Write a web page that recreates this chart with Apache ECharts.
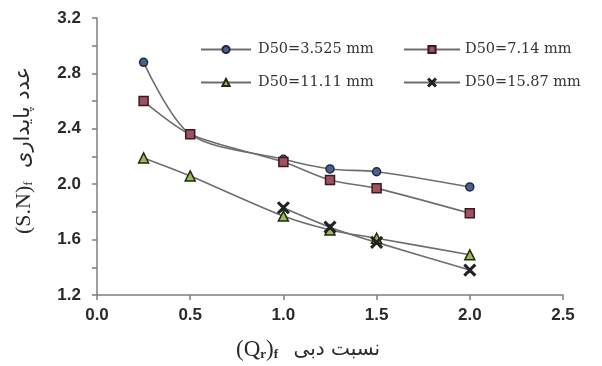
<!DOCTYPE html>
<html>
<head>
<meta charset="utf-8">
<script src="https://cdn.jsdelivr.net/npm/echarts@6/dist/echarts.min.js"></script>
<style>
  html, body { margin: 0; padding: 0; background: #fff; }
  #chart { width: 602px; height: 366px; }
</style>
</head>
<body>
<div id="chart"></div>
<script>
// Discharge ratio (x) and stability number (S.N)f for four sediment sizes
var xValues   = [0.25, 0.5, 1.0, 1.25, 1.5, 2.0];
var xCross    = [1.0, 1.25, 1.5, 2.0];
var seriesNames = ['D50=3.525 mm', 'D50=7.14 mm', 'D50=11.11 mm', 'D50=15.87 mm'];
var snD3525   = [2.88, 2.36, 2.18, 2.11, 2.09, 1.98];
var snD714    = [2.60, 2.36, 2.16, 2.03, 1.97, 1.79];
var snD1111   = [2.19, 2.06, 1.77, 1.67, 1.61, 1.49];
var snD1587   = [1.83, 1.69, 1.58, 1.38];

function pairs(xs, ys) {
  return xs.map(function (x, i) { return [x, ys[i]]; });
}

var crossPath = 'path://M0,1L1,0L5,4L9,0L10,1L6,5L10,9L9,10L5,6L1,10L0,9L4,5Z';
var lineStyle = { color: '#6e6e6e', width: 1.6 };
var tickFont = { fontFamily: 'Liberation Sans', fontWeight: 'bold', fontSize: 17, color: '#2a2a2a' };

function makeSeries(name, data, symbol, size, fill, border) {
  return {
    name: name,
    type: 'line',
    data: data,
    smooth: 0.3,
    symbol: symbol,
    symbolSize: size,
    showAllSymbol: true,
    lineStyle: lineStyle,
    itemStyle: { color: fill, borderColor: border, borderWidth: 1.5 },
    emphasis: { disabled: true },
    z: 3
  };
}

var chart = echarts.init(document.getElementById('chart'));
chart.setOption({
  animation: false,
  backgroundColor: '#ffffff',
  grid: { left: 97, right: 39, top: 18, bottom: 71, containLabel: false },
  legend: [
    {
      data: [seriesNames[0], seriesNames[2]],
      orient: 'vertical', left: 195, top: 37, itemGap: 18,
      itemWidth: 50, itemHeight: 9,
      textStyle: { fontFamily: 'DejaVu Serif', fontSize: 14.5, color: '#333', padding: [0, 0, 0, 2] }
    },
    {
      data: [seriesNames[1], seriesNames[3]],
      orient: 'vertical', left: 398, top: 37, itemGap: 18,
      itemWidth: 56, itemHeight: 9,
      textStyle: { fontFamily: 'DejaVu Serif', fontSize: 14.5, color: '#333', padding: [0, 0, 0, 0] }
    }
  ],
  xAxis: {
    type: 'value', min: 0, max: 2.5, interval: 0.5,
    axisLine: { show: true, onZero: false, lineStyle: { color: '#7f7f7f', width: 1.5 } },
    axisTick: { show: true, length: 5, lineStyle: { color: '#7f7f7f', width: 1.5 } },
    splitLine: { show: false },
    axisLabel: Object.assign({ margin: 12, formatter: function (v) { return v.toFixed(1); } }, tickFont)
  },
  yAxis: {
    type: 'value', min: 1.2, max: 3.2, interval: 0.2,
    axisLine: { show: true, onZero: false, lineStyle: { color: '#7f7f7f', width: 1.5 } },
    axisTick: { show: true, length: 5, lineStyle: { color: '#7f7f7f', width: 1.5 } },
    splitLine: { show: false },
    axisLabel: Object.assign({
      margin: 16,
      formatter: function (v) {
        return Math.round(v * 10) % 4 === 0 ? v.toFixed(1) : '';
      }
    }, tickFont)
  },
  graphic: [
    {
      type: 'text', left: 236, top: 338,
      style: {
        text: '{a|(Q}{s|r}{a|)}{s|f}{g|    }{p|نسبت دبی}',
        rich: {
          a: { fontFamily: 'Liberation Serif', fontSize: 23, fill: '#2a2a2a' },
          s: { fontFamily: 'Liberation Serif', fontSize: 13, fontWeight: 'bold', fill: '#2a2a2a', verticalAlign: 'bottom', padding: [10, 0, 0, 0] },
          g: { fontSize: 14 },
          p: { fontFamily: 'DejaVu Sans', fontSize: 20, fill: '#2a2a2a' }
        }
      }
    },
    {
      type: 'text', x: 13, y: 234, rotation: Math.PI / 2,
      style: {
        text: '{a|(S.N)}{s|f}{p|  عدد پایداری}',
        rich: {
          a: { fontFamily: 'Liberation Serif', fontSize: 22, fill: '#2a2a2a' },
          s: { fontFamily: 'Liberation Serif', fontSize: 13, fill: '#2a2a2a', verticalAlign: 'bottom', padding: [9, 0, 0, 0] },
          p: { fontFamily: 'DejaVu Sans', fontSize: 21, fill: '#2a2a2a' }
        }
      }
    }
  ],
  series: [
    makeSeries(seriesNames[0], pairs(xValues, snD3525), 'circle', 8, '#4a6189', '#1e2a40'),
    makeSeries(seriesNames[1], pairs(xValues, snD714), 'rect', 9, '#a0505f', '#3a1a20'),
    makeSeries(seriesNames[2], pairs(xValues, snD1111), 'triangle', 10, '#9bbb59', '#1f2a10'),
    makeSeries(seriesNames[3], pairs(xCross, snD1587), crossPath, 11, '#222222', '#222222')
  ]
});
</script>
</body>
</html>
